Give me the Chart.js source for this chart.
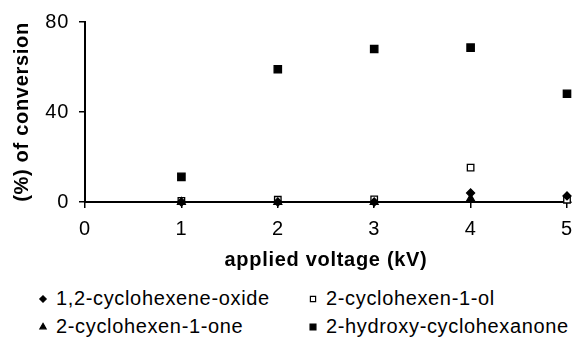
<!DOCTYPE html>
<html>
<head>
<meta charset="utf-8">
<script src="https://cdn.jsdelivr.net/npm/chart.js@4"></script>
<style>
    body { margin: 0; background: #fff; font-family: "Liberation Sans", Arial, sans-serif; }
    .wrap { width: 575px; height: 342px; position: relative; }
    .chart-box { width: 575px; height: 272px; position: relative; }
    .legend { position: absolute; left: 0; top: 284px; width: 575px; font-size: 20px; letter-spacing: 0.65px; color: #000; }
    .legend-item { position: absolute; white-space: nowrap; line-height: 28px; }
    .legend-item canvas { vertical-align: middle; margin-right: 6px; position: relative; top: -1px; }
</style>
</head>
<body>
<div class="wrap">
    <div class="chart-box"><canvas id="conversionChart"></canvas></div>
    <div class="legend" id="legend"></div>
</div>
<script>
const voltages = [1, 2, 3, 4, 5];
const seriesNames = ['1,2-cyclohexene-oxide', '2-cyclohexen-1-ol', '2-cyclohexen-1-one', '2-hydroxy-cyclohexanone'];
const oxideValues = [0, 0, 0, 4, 2.7];
const olValues = [0.5, 1, 1.2, 15.3, 1];
const oneValues = [0, 0, 0, 1.5, 1];
const hydroxyValues = [11.2, 59, 68, 68.6, 48.1];
const xTicks = [0, 1, 2, 3, 4, 5];
const yTicks = [0, 40, 80];

const styles = [
    { pointStyle: 'rectRot', radius: 4, fill: '#000' },
    { pointStyle: 'rect', radius: 4.6, fill: '#fff' },
    { pointStyle: 'triangle', radius: 4.5, fill: '#000' },
    { pointStyle: 'rect', radius: 5.2, fill: '#000' }
];
const allValues = [oxideValues, olValues, oneValues, hydroxyValues];

const datasets = allValues.map((vals, i) => ({
    label: seriesNames[i],
    data: voltages.map((v, j) => ({ x: v, y: vals[j] })),
    showLine: false,
    clip: false,
    pointStyle: styles[i].pointStyle,
    pointRadius: styles[i].radius,
    pointHoverRadius: styles[i].radius,
    backgroundColor: styles[i].fill,
    borderColor: '#000',
    borderWidth: 1.3
}));

const font = { family: '"Liberation Sans", Arial, sans-serif', size: 20 };

// the original text is a bit wider than Liberation Sans, spread it out a little
const spacing = {
    id: 'spacing',
    beforeLayout: c => { c.ctx.letterSpacing = '0.7px'; },
    beforeDraw: c => { c.ctx.letterSpacing = '0.7px'; }
};

new Chart(document.getElementById('conversionChart'), {
    type: 'scatter',
    data: { datasets },
    plugins: [spacing],
    options: {
        responsive: true,
        maintainAspectRatio: false,
        animation: false,
        layout: { padding: { left: 0, right: 8, top: 20, bottom: 0 } },
        plugins: { legend: { display: false }, tooltip: { enabled: false } },
        scales: {
            x: {
                type: 'linear', min: 0, max: 5,
                afterBuildTicks: s => { s.ticks = xTicks.map(v => ({ value: v })); },
                afterFit: s => { s.height = 70; s.paddingLeft = 0; s.paddingRight = 0; },
                grid: { drawOnChartArea: false, color: '#000', tickLength: 6, lineWidth: 1.5 },
                border: { display: true, color: '#000', width: 2 },
                ticks: { color: '#000', font, padding: 9 },
                title: { display: true, text: 'applied voltage (kV)', color: '#000', font: { ...font, weight: 'bold' }, padding: { top: 0, bottom: 0 } }
            },
            y: {
                type: 'linear', min: 0, max: 80,
                afterBuildTicks: s => { s.ticks = yTicks.map(v => ({ value: v })); },
                afterFit: s => { s.width = 85; },
                grid: { drawOnChartArea: false, color: '#000', tickLength: 6, lineWidth: 1.5 },
                border: { display: true, color: '#000', width: 2 },
                ticks: { color: '#000', font, padding: 10 },
                title: { display: true, text: '(%) of conversion', color: '#000', font: { ...font, weight: 'bold' }, padding: { top: 10, bottom: 0 } }
            }
        }
    }
});

// legend in two columns
const legendPos = [[36, 0], [306, 0], [36, 28], [306, 28]];
const legendEl = document.getElementById('legend');
seriesNames.forEach((name, i) => {
    const item = document.createElement('div');
    item.className = 'legend-item';
    item.style.left = legendPos[i][0] + 'px';
    item.style.top = legendPos[i][1] + 'px';
    const c = document.createElement('canvas');
    c.width = 14; c.height = 14;
    const ctx = c.getContext('2d');
    ctx.fillStyle = styles[i].fill;
    ctx.strokeStyle = '#000';
    ctx.lineWidth = 1.2;
    Chart.helpers.drawPoint(ctx, { pointStyle: styles[i].pointStyle, radius: styles[i].radius * 0.8, borderWidth: 1.2 }, 7, 7);
    item.appendChild(c);
    item.appendChild(document.createTextNode(name));
    legendEl.appendChild(item);
});
</script>
</body>
</html>
